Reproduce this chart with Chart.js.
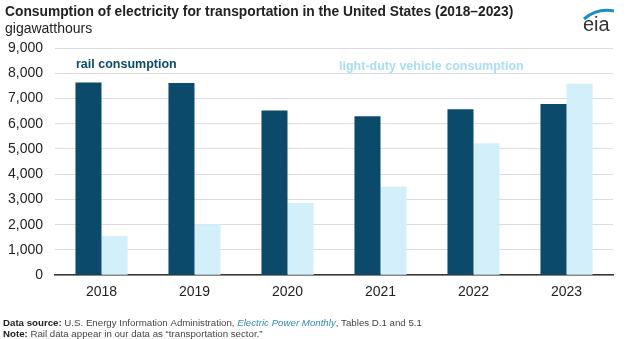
<!DOCTYPE html>
<html>
<head>
<meta charset="utf-8">
<script src="https://cdn.jsdelivr.net/npm/chart.js@4.4.1/dist/chart.umd.min.js"></script>
<style>
  html, body { margin: 0; padding: 0; background: #fff; }
  #wrap { width: 625px; height: 339px; position: relative; }
</style>
</head>
<body>
<div id="wrap"><canvas id="elecChart" width="625" height="339"></canvas></div>
<script>
// years on the x axis
const years = ['2018', '2019', '2020', '2021', '2022', '2023'];

// gigawatthours
const railValues = [7630, 7610, 6520, 6300, 6570, 6780];
const lightDutyValues = [1550, 2020, 2860, 3500, 5230, 7580];

const railColor = '#0c4a6b';
const lightColor = '#d3effa';

const ctx = document.getElementById('elecChart');

// title, subtitle, logo, series labels and footer notes drawn on the canvas
const textPlugin = {
    id: 'eiaText',
    afterDraw(chart) {
        const c = chart.ctx;
        c.save();
        c.textBaseline = 'alphabetic';
        c.textAlign = 'left';

        c.fillStyle = '#222';
        c.font = 'bold 13.8px "Liberation Sans", Arial, sans-serif';
        c.fillText('Consumption of electricity for transportation in the United States (2018\u20132023)', 5, 16);
        c.font = '14px "Liberation Sans", Arial, sans-serif';
        c.fillText('gigawatthours', 5, 33);

        // eia logo
        c.fillStyle = '#333';
        c.font = '20px "Liberation Sans", Arial, sans-serif';
        c.fillText('eia', 583, 31);
        c.strokeStyle = '#1b8fc0';
        c.lineWidth = 3;
        c.beginPath();
        c.moveTo(584, 19);
        c.quadraticCurveTo(597, 8, 614, 11);
        c.stroke();

        // series labels
        c.font = 'bold 12.5px "Liberation Sans", Arial, sans-serif';
        c.fillStyle = railColor;
        c.fillText('rail consumption', 76, 68);
        c.fillStyle = '#a8def3';
        c.fillText('light-duty vehicle consumption', 339, 70);

        // footer
        const fs = '9.7px "Liberation Sans", Arial, sans-serif';
        c.font = 'bold ' + fs;
        c.fillStyle = '#222';
        c.fillText('Data source:', 3, 326);
        let x = 3 + c.measureText('Data source: ').width;
        c.font = fs;
        c.fillStyle = '#444';
        const part1 = 'U.S. Energy Information Administration, ';
        c.fillText(part1, x, 326);
        x += c.measureText(part1).width;
        c.font = 'italic ' + fs;
        c.fillStyle = '#2f8bb5';
        const part2 = 'Electric Power Monthly';
        c.fillText(part2, x, 326);
        x += c.measureText(part2).width;
        c.font = fs;
        c.fillStyle = '#444';
        c.fillText(', Tables D.1 and 5.1', x, 326);

        c.font = 'bold ' + fs;
        c.fillStyle = '#222';
        c.fillText('Note:', 3, 337);
        const nx = 3 + c.measureText('Note: ').width;
        c.font = fs;
        c.fillStyle = '#444';
        c.fillText('Rail data appear in our data as \u201ctransportation sector.\u201d', nx, 337);
        c.restore();
    }
};

new Chart(ctx, {
    type: 'bar',
    data: {
        labels: years,
        datasets: [{
            label: 'rail consumption',
            data: railValues,
            backgroundColor: railColor,
            categoryPercentage: 0.56,
            barPercentage: 1.0
        }, {
            label: 'light-duty vehicle consumption',
            data: lightDutyValues,
            backgroundColor: lightColor,
            categoryPercentage: 0.56,
            barPercentage: 1.0
        }]
    },
    options: {
        responsive: false,
        animation: false,
        layout: { padding: { top: 48, right: 12, bottom: 29, left: 0 } },
        plugins: {
            legend: { display: false },
            tooltip: { enabled: false }
        },
        scales: {
            x: {
                grid: { display: false, drawTicks: false },
                border: { color: '#333', width: 1.5 },
                ticks: {
                    color: '#222',
                    padding: 9,
                    font: { family: '"Liberation Sans", Arial, sans-serif', size: 14 }
                }
            },
            y: {
                min: 0,
                max: 9000,
                afterFit(scale) { scale.width = 55; },
                grid: { color: '#dcdcdc', drawTicks: false },
                border: { display: false },
                ticks: {
                    stepSize: 1000,
                    color: '#222',
                    padding: 12,
                    font: { family: '"Liberation Sans", Arial, sans-serif', size: 14 },
                    callback: v => v.toLocaleString('en-US')
                }
            }
        }
    },
    plugins: [textPlugin]
});
</script>
</body>
</html>
